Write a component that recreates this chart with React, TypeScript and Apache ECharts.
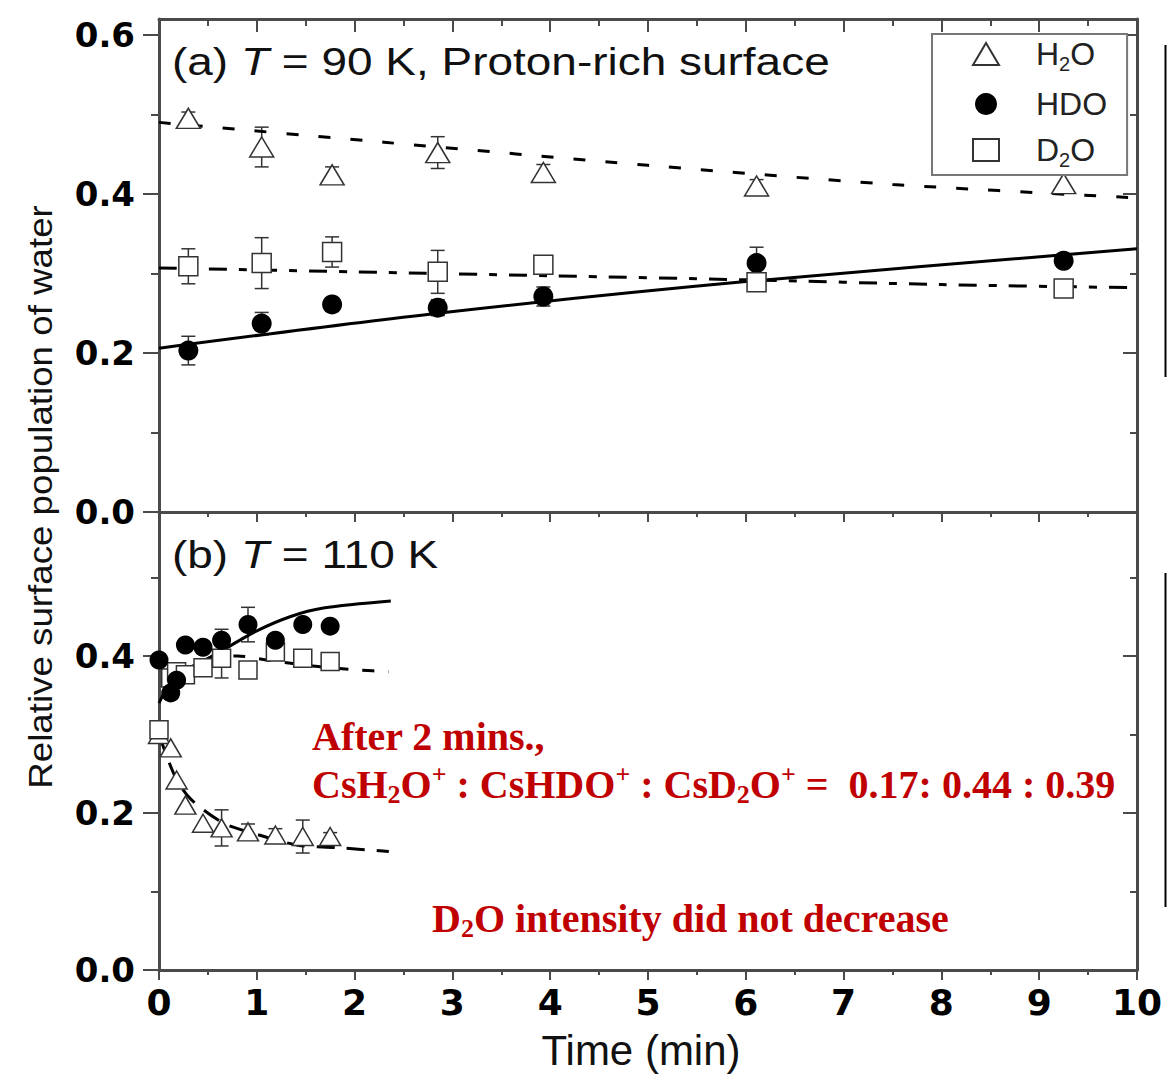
import React, { useEffect, useRef } from 'react';
import * as echarts from 'echarts';

// ---------- Panel (a): T = 90 K ----------
const timeA = [0.3, 1.05, 1.77, 2.85, 3.93, 6.11, 9.25];
const h2oA = [0.495, 0.459, 0.424, 0.452, 0.427, 0.41, 0.413];
const h2oAErr = [0.008, 0.025, 0.01, 0.02, 0.01, 0.008, 0.012];
const hdoA = [0.203, 0.237, 0.261, 0.257, 0.271, 0.313, 0.316];
const hdoAErr = [0.018, 0.014, 0.005, 0.01, 0.012, 0.02, 0.008];
const d2oA = [0.309, 0.313, 0.327, 0.302, 0.311, 0.289, 0.281];
const d2oAErr = [0.022, 0.032, 0.019, 0.027, 0.008, 0.006, 0.006];

const fitH2oA = [[0, 0.49], [2.3, 0.465], [5, 0.436], [7.5, 0.412], [10, 0.395]];
const fitD2oA = [[0, 0.307], [2, 0.302], [4, 0.297], [6, 0.292], [8, 0.286], [10, 0.282]];
const fitHdoA = [[0, 0.206], [2.85, 0.25], [6.11, 0.291], [10, 0.331]];

// ---------- Panel (b): T = 110 K ----------
const timeB = [0, 0.12, 0.18, 0.27, 0.45, 0.64, 0.91, 1.19, 1.47, 1.75];
const h2oB = [0.3, 0.283, 0.242, 0.21, 0.187, 0.181, 0.176, 0.172, 0.17, 0.17];
const h2oBErr = [0, 0, 0, 0, 0, 0.023, 0.01, 0.008, 0.021, 0.005];
const hdoB = [0.395, 0.353, 0.369, 0.414, 0.411, 0.42, 0.44, 0.42, 0.44, 0.438];
const hdoBErr = [0, 0, 0, 0, 0, 0.014, 0.022, 0, 0, 0];
const d2oB = [0.306, 0.372, 0.38, 0.376, 0.385, 0.397, 0.382, 0.405, 0.397, 0.393];
const d2oBErr = [0, 0, 0, 0, 0, 0.025, 0, 0, 0, 0.01];

const fitHdoB = [[0, 0.34], [0.13, 0.368], [0.32, 0.384], [0.66, 0.408], [1.0, 0.432], [1.34, 0.45], [1.68, 0.461], [2.37, 0.47]];
const fitD2oB = [[0.05, 0.36], [0.3, 0.385], [0.8, 0.4], [1.1, 0.395], [1.45, 0.389], [1.75, 0.385], [2.06, 0.382], [2.35, 0.38]];
const fitH2oB = [[0, 0.3], [0.17, 0.245], [0.33, 0.217], [0.66, 0.187], [0.94, 0.175], [1.42, 0.159], [1.8, 0.156], [2.35, 0.151]];

// ---------- Axes ----------
const xTicks = [0, 10];
const yMajorA = [0, 0.2, 0.4, 0.6];
const yMinorA = [0.1, 0.3, 0.5];
const yMajorB = [0, 0.2, 0.4];
const yMinorB = [0.1, 0.3, 0.5];

const FRAME = '#4a4a4a';
const RED = '#c00000';

const pts = (xs: number[], ys: number[]) => xs.map((x, i) => [x, ys[i]]);
const errPts = (xs: number[], ys: number[], es: number[]) =>
  xs.map((x, i) => [x, ys[i], es[i]]).filter((d) => d[2] > 0);

function errorBar(name: string, data: number[][], xi: number, yi: number) {
  return {
    type: 'custom',
    name,
    xAxisIndex: xi,
    yAxisIndex: yi,
    data,
    z: 2,
    renderItem: (params: any, api: any) => {
      const x = api.value(0);
      const y = api.value(1);
      const e = api.value(2);
      const top = api.coord([x, y + e]);
      const bot = api.coord([x, y - e]);
      const hw = 7;
      const st = { stroke: '#333', lineWidth: 1.5 };
      return {
        type: 'group',
        children: [
          { type: 'line', shape: { x1: top[0], y1: top[1], x2: bot[0], y2: bot[1] }, style: st },
          { type: 'line', shape: { x1: top[0] - hw, y1: top[1], x2: top[0] + hw, y2: top[1] }, style: st },
          { type: 'line', shape: { x1: bot[0] - hw, y1: bot[1], x2: bot[0] + hw, y2: bot[1] }, style: st },
        ],
      };
    },
  };
}

function scatter(name: string, data: number[][], xi: number, yi: number, kind: string, size: any) {
  const open = kind !== 'circle';
  return {
    type: 'scatter',
    name,
    xAxisIndex: xi,
    yAxisIndex: yi,
    data,
    symbol: kind,
    symbolSize: size,
    z: 3,
    itemStyle: open
      ? { color: '#fff', borderColor: '#333', borderWidth: 1.5, opacity: 1 }
      : { color: '#000', borderColor: '#000', borderWidth: 0, opacity: 1 },
  };
}

function fit(name: string, data: number[][], xi: number, yi: number, type: any) {
  return {
    type: 'line',
    name,
    xAxisIndex: xi,
    yAxisIndex: yi,
    data,
    smooth: 0.3,
    symbol: 'none',
    showSymbol: false,
    z: 2,
    lineStyle: { color: '#000', width: 3, type },
  };
}

const yLabelStyle = {
  fontFamily: 'DejaVu Sans',
  fontWeight: 'bold' as const,
  fontSize: 34,
  color: '#000',
  margin: 24,
};

function yAxes(gridIndex: number, max: number, major: number[], minor: number[]) {
  const base = {
    type: 'value',
    gridIndex,
    min: 0,
    max,
    splitLine: { show: false },
  };
  return [
    {
      ...base,
      position: 'left',
      axisLine: { show: true, onZero: false, lineStyle: { color: FRAME, width: 3 } },
      axisTick: { show: true, inside: false, length: 16, customValues: major, lineStyle: { color: FRAME, width: 2 } },
      axisLabel: { show: true, customValues: major, formatter: (v: number) => v.toFixed(1), ...yLabelStyle },
    },
    {
      ...base,
      position: 'left',
      axisLine: { show: false, onZero: false },
      axisTick: { show: true, inside: false, length: 8, customValues: minor, lineStyle: { color: FRAME, width: 2 } },
      axisLabel: { show: false },
    },
    {
      ...base,
      position: 'right',
      axisLine: { show: true, onZero: false, lineStyle: { color: FRAME, width: 3 } },
      axisTick: { show: true, inside: true, length: 14, customValues: major, lineStyle: { color: FRAME, width: 2 } },
      axisLabel: { show: false },
    },
    {
      ...base,
      position: 'right',
      axisLine: { show: false, onZero: false },
      axisTick: { show: true, inside: true, length: 7, customValues: minor, lineStyle: { color: FRAME, width: 2 } },
      axisLabel: { show: false },
    },
  ];
}

function xAxis(gridIndex: number, position: string, inside: boolean, len: number, labels: boolean) {
  return {
    type: 'value',
    gridIndex,
    position,
    min: xTicks[0],
    max: xTicks[1],
    interval: 1,
    splitLine: { show: false },
    axisLine: { show: true, onZero: false, lineStyle: { color: FRAME, width: 3 } },
    axisTick: { show: true, inside, length: len, lineStyle: { color: FRAME, width: 2 } },
    minorTick: { show: true, splitNumber: 2, length: Math.round(len / 2), lineStyle: { color: FRAME, width: 2 } },
    minorSplitLine: { show: false },
    axisLabel: labels
      ? { show: true, fontFamily: 'DejaVu Sans', fontWeight: 'bold', fontSize: 36, color: '#000', margin: 14 }
      : { show: false },
  };
}

const legendNames: Record<string, string> = {
  H2O: '{n|H}{s|2}{n|O}',
  HDO: '{n|HDO}',
  D2O: '{n|D}{s|2}{n|O}',
};

const redRich = {
  n: { fontFamily: 'Liberation Serif', fontWeight: 'bold', fontSize: 40, fill: RED, color: RED, lineHeight: 46 },
  s: { fontFamily: 'Liberation Serif', fontWeight: 'bold', fontSize: 26, fill: RED, color: RED, lineHeight: 19, verticalAlign: 'bottom' },
  p: { fontFamily: 'Liberation Serif', fontWeight: 'bold', fontSize: 26, fill: RED, color: RED, lineHeight: 28, verticalAlign: 'top' },
};

const titleRich = {
  n: { fontFamily: 'Liberation Sans', fontSize: 38, fill: '#111', color: '#111' },
  i: { fontFamily: 'Liberation Sans', fontSize: 38, fill: '#111', color: '#111', fontStyle: 'italic' },
};

function textEl(x: number, y: number, text: string, rich: any, extra: any = {}) {
  return {
    type: 'text',
    x,
    y,
    z: 10,
    ...extra,
    style: {
      text,
      rich,
      align: 'left',
      verticalAlign: 'middle',
      textAlign: 'left',
      textVerticalAlign: 'middle',
    },
  };
}

export default function App() {
  const ref = useRef<HTMLDivElement>(null);
  useEffect(() => {
    if (!ref.current) return;
    const chart = echarts.init(ref.current, undefined, { renderer: 'svg' });
    const option: any = {
      animation: false,
      backgroundColor: '#fff',
      grid: [
        { left: 159, right: 30, top: 19, height: 493, containLabel: false },
        { left: 159, right: 30, top: 512, height: 458, containLabel: false },
      ],
      xAxis: [
        xAxis(0, 'bottom', false, 10, false),
        xAxis(0, 'top', true, 13, false),
        xAxis(1, 'bottom', false, 10, true),
      ],
      yAxis: [...yAxes(0, 0.62, yMajorA, yMinorA), ...yAxes(1, 0.5834, yMajorB, yMinorB)],
      legend: {
        left: 932,
        top: 34,
        orient: 'vertical',
        data: ['H2O', 'HDO', 'D2O'],
        padding: [4, 20, 5, 40],
        itemWidth: 26,
        itemHeight: 22,
        itemGap: 14,
        symbolKeepAspect: true,
        borderColor: '#777',
        borderWidth: 2,
        backgroundColor: '#fff',
        formatter: (name: string) => legendNames[name] || name,
        textStyle: {
          padding: [0, 0, 0, 32],
          rich: {
            n: { fontFamily: 'Liberation Sans', fontSize: 32, color: '#222', lineHeight: 40 },
            s: { fontFamily: 'Liberation Sans', fontSize: 20, color: '#222', lineHeight: 4, verticalAlign: 'bottom' },
          },
        },
      },
      series: [
        errorBar('eH2OA', errPts(timeA, h2oA, h2oAErr), 0, 0),
        errorBar('eHDOA', errPts(timeA, hdoA, hdoAErr), 0, 0),
        errorBar('eD2OA', errPts(timeA, d2oA, d2oAErr), 0, 0),
        fit('fH2OA', fitH2oA, 0, 0, [12, 20]),
        fit('fD2OA', fitD2oA, 0, 0, [18, 12, 8, 12]),
        fit('fHDOA', fitHdoA, 0, 0, 'solid'),
        scatter('H2O', pts(timeA, h2oA), 0, 0, 'triangle', [24, 20]),
        scatter('HDO', pts(timeA, hdoA), 0, 0, 'circle', 20),
        scatter('D2O', pts(timeA, d2oA), 0, 0, 'rect', 19),

        errorBar('eH2OB', errPts(timeB, h2oB, h2oBErr), 2, 4),
        errorBar('eHDOB', errPts(timeB, hdoB, hdoBErr), 2, 4),
        errorBar('eD2OB', errPts(timeB, d2oB, d2oBErr), 2, 4),
        fit('fH2OB', fitH2oB, 2, 4, [18, 12]),
        fit('fD2OB', fitD2oB, 2, 4, [12, 14]),
        fit('fHDOB', fitHdoB, 2, 4, 'solid'),
        scatter('H2O', pts(timeB, h2oB), 2, 4, 'triangle', [21, 18]),
        scatter('D2O', pts(timeB, d2oB), 2, 4, 'rect', 18),
        scatter('HDO', pts(timeB, hdoB), 2, 4, 'circle', 19),
      ],
      graphic: [
        textEl(172, 62, '{n|(a) }{i|T}{n| = 90 K, Proton-rich surface}', titleRich, { scaleX: 1.21 }),
        textEl(172, 555, '{n|(b) }{i|T}{n| = 110 K}', titleRich, { scaleX: 1.21 }),
        {
          type: 'text',
          x: 40,
          y: 497,
          rotation: Math.PI / 2,
          scaleX: 1.08,
          style: {
            text: 'Relative surface population of water',
            fontFamily: 'Liberation Sans',
            fontSize: 34,
            fill: '#111',
            align: 'center',
            verticalAlign: 'middle',
            textAlign: 'center',
            textVerticalAlign: 'middle',
          },
        },
        {
          type: 'text',
          x: 641,
          y: 1050,
          style: {
            text: 'Time (min)',
            fontFamily: 'Liberation Sans',
            fontSize: 42,
            fill: '#111',
            align: 'center',
            verticalAlign: 'middle',
            textAlign: 'center',
            textVerticalAlign: 'middle',
          },
        },
        textEl(312, 736, '{n|After 2 mins.,}', redRich),
        textEl(312, 784, '{n|CsH}{s|2}{n|O}{p|+}{n| : CsHDO}{p|+}{n| : CsD}{s|2}{n|O}{p|+}{n| =  0.17: 0.44 : 0.39}', redRich),
        textEl(432, 918, '{n|D}{s|2}{n|O intensity did not decrease}', redRich),
        { type: 'line', shape: { x1: 1165.5, y1: 45, x2: 1165.5, y2: 377 }, style: { stroke: '#000', lineWidth: 2 } },
        { type: 'line', shape: { x1: 1165.5, y1: 573, x2: 1165.5, y2: 907 }, style: { stroke: '#000', lineWidth: 2 } },
      ],
    };
    chart.setOption(option);
    return () => chart.dispose();
  }, []);
  return (
    <div
      ref={ref}
      style={{ position: 'fixed', left: 0, top: 0, width: 1167, height: 1075, background: '#fff' }}
    />
  );
}
